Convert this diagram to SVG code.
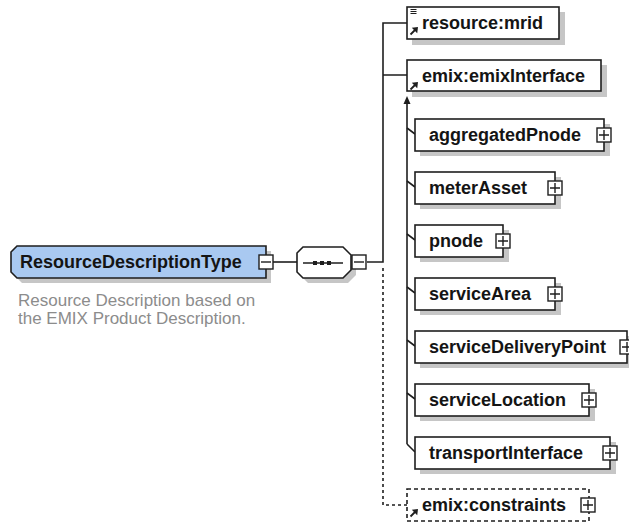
<svg xmlns="http://www.w3.org/2000/svg" width="629" height="523" viewBox="0 0 629 523">
  <style>
    .box { fill: #ffffff; stroke: #1e1e1e; stroke-width: 1.6; }
    .root { fill: #a9c9f1; stroke: #1e1e1e; stroke-width: 1.6; }
    .opt { fill: #ffffff; stroke: #1e1e1e; stroke-width: 1.6; stroke-dasharray: 4 3; }
    .shadow { fill: #c6c6c6; }
    .wire { fill: none; stroke: #1e1e1e; stroke-width: 1.6; }
    .dash { fill: none; stroke: #1e1e1e; stroke-width: 1.6; stroke-dasharray: 3 3; }
    .tog { fill: #ffffff; stroke: #1e1e1e; stroke-width: 1.4; }
    .sign { fill: none; stroke: #1e1e1e; stroke-width: 1.4; }
    .label { font-family: "Liberation Sans", Arial, sans-serif; font-weight: bold; font-size: 18px; fill: #141414; }
    .doc { font-family: "Liberation Sans", Arial, sans-serif; font-size: 17px; fill: #8c8c8c; }
    .icon { fill: none; stroke: #1e1e1e; stroke-width: 1.8; }
    .lines { fill: none; stroke: #1e1e1e; stroke-width: 1; }
  </style>
  <defs>
    <!-- expand (+) and collapse (-) toggles, 14x14 -->
    <g id="plus">
      <rect class="tog" x="-7" y="-7" width="14" height="14"/>
      <path class="sign" d="M-5 0 H5 M0 -5 V5"/>
    </g>
    <g id="minus">
      <rect class="tog" x="-7" y="-7" width="14" height="14"/>
      <path class="sign" d="M-5 0 H5"/>
    </g>
    <!-- reference arrow shown on referenced elements -->
    <g id="ref">
      <path class="icon" d="M0.5 7.5 L5 3"/>
      <polygon points="8,0 1.8,0.8 7.2,6.2" fill="#1e1e1e"/>
    </g>
  </defs>

  <!-- connectors -->
  <g id="connectors">
    <path class="wire" d="M273 262 H297"/>
    <path class="wire" d="M367 262 H383 V23 H407 M383 75 H407"/>
    <path class="dash" d="M383 268 V505 H407"/>
    <!-- substitution group line with arrow to head element -->
    <path class="wire" d="M407 104 V444"/>
    <polygon points="407,96 403.5,104 410.5,104" fill="#1e1e1e"/>
    <path class="wire" d="M407 128 L415 134 M407 181 L415 187 M407 234 L415 240 M407 287 L415 293 M407 340 L415 346 M407 393 L415 399 M407 444 L415 452"/>
  </g>

  <!-- root complex type -->
  <g id="ResourceDescriptionType">
    <path class="shadow" d="M22 251 H271 V283 H22 L16 277 V257 Z"/>
    <path class="root" d="M17 246 H266 V278 H17 L11 272 V252 Z"/>
    <text class="label" x="20" y="268">ResourceDescriptionType</text>
    <use href="#minus" x="266" y="262"/>
    <text class="doc" x="18" y="306">Resource Description based on</text>
    <text class="doc" x="18" y="324">the EMIX Product Description.</text>
  </g>

  <!-- sequence compositor -->
  <g id="sequence">
    <path class="shadow" d="M308 252 H348 L356 260 V275 L348 283 H308 L302 277 V258 Z"/>
    <path class="box" d="M303 247 H343 L351 255 V270 L343 278 H303 L297 272 V253 Z"/>
    <path class="wire" d="M303 263 H343"/>
    <rect x="313" y="261" width="4" height="4" fill="#1e1e1e"/>
    <rect x="320" y="261" width="4" height="4" fill="#1e1e1e"/>
    <rect x="327" y="261" width="4" height="4" fill="#1e1e1e"/>
    <use href="#minus" x="359" y="262"/>
  </g>

  <g id="resource-mrid">
    <rect class="shadow" x="412" y="12" width="153" height="33"/>
    <rect class="box" x="407" y="7" width="152" height="32"/>
    <!-- simple-content marker -->
    <path class="lines" d="M410.5 9.5 H416.5 M410.5 11.5 H416.5 M410.5 13.5 H416.5"/>
    <use href="#ref" x="410" y="27"/>
    <text class="label" x="422" y="29">resource:mrid</text>
  </g>

  <g id="emix-emixInterface">
    <rect class="shadow" x="412" y="65" width="195" height="32"/>
    <rect class="box" x="407" y="60" width="194" height="31"/>
    <use href="#ref" x="410" y="82"/>
    <text class="label" x="422" y="82">emix:emixInterface</text>
  </g>

  <g id="aggregatedPnode">
    <rect class="shadow" x="420" y="124" width="190" height="32"/>
    <rect class="box" x="415" y="119" width="189" height="32"/>
    <text class="label" x="429" y="141">aggregatedPnode</text>
    <use href="#plus" x="604" y="135"/>
  </g>

  <g id="meterAsset">
    <rect class="shadow" x="420" y="177" width="141" height="32"/>
    <rect class="box" x="415" y="172" width="140" height="32"/>
    <text class="label" x="429" y="194">meterAsset</text>
    <use href="#plus" x="555" y="188"/>
  </g>

  <g id="pnode">
    <rect class="shadow" x="420" y="230" width="89" height="32"/>
    <rect class="box" x="415" y="225" width="88" height="32"/>
    <text class="label" x="429" y="247">pnode</text>
    <use href="#plus" x="503" y="241"/>
  </g>

  <g id="serviceArea">
    <rect class="shadow" x="420" y="283" width="141" height="32"/>
    <rect class="box" x="415" y="278" width="140" height="32"/>
    <text class="label" x="429" y="300">serviceArea</text>
    <use href="#plus" x="555" y="294"/>
  </g>

  <g id="serviceDeliveryPoint">
    <rect class="shadow" x="420" y="336" width="213" height="32"/>
    <rect class="box" x="415" y="331" width="212" height="32"/>
    <text class="label" x="429" y="353">serviceDeliveryPoint</text>
    <use href="#plus" x="627" y="347"/>
  </g>

  <g id="serviceLocation">
    <rect class="shadow" x="420" y="389" width="175" height="32"/>
    <rect class="box" x="415" y="384" width="174" height="32"/>
    <text class="label" x="429" y="406">serviceLocation</text>
    <use href="#plus" x="589" y="400"/>
  </g>

  <g id="transportInterface">
    <rect class="shadow" x="420" y="442" width="196" height="32"/>
    <rect class="box" x="415" y="437" width="195" height="32"/>
    <text class="label" x="429" y="459">transportInterface</text>
    <use href="#plus" x="610" y="453"/>
  </g>

  <g id="emix-constraints">
    <rect class="opt" x="407" y="489" width="182" height="32"/>
    <use href="#ref" x="410" y="509"/>
    <text class="label" x="422" y="511">emix:constraints</text>
    <use href="#plus" x="588" y="505"/>
  </g>
</svg>
